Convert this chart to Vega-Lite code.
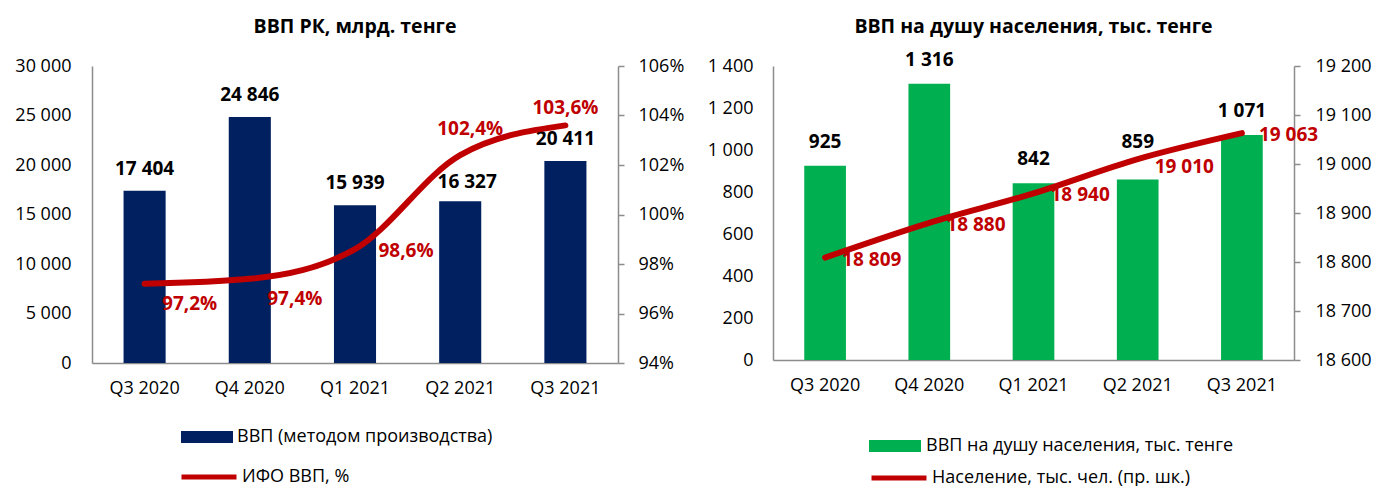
{
  "$schema": "https://vega.github.io/schema/vega-lite/v6.json",
  "autosize": {"type": "pad"},
  "padding": {"left": 14, "top": 16, "right": 0, "bottom": 0},
  "spacing": 23,
  "background": "#ffffff",
  "config": {
    "font": "Open Sans",
    "view": {"stroke": null},
    "locale": {"number": {"decimal": ",", "thousands": " ", "grouping": [3], "currency": ["", ""]}},
    "axis": {"labelFont": "Open Sans", "labelFontSize": 18, "labelColor": "#000000", "domainColor": "#8c8c8c", "domainWidth": 1.5, "tickColor": "#8c8c8c", "tickWidth": 1.5, "grid": false, "title": null},
    "legend": {"padding": 0, "labelFont": "Open Sans", "labelFontSize": 18, "labelColor": "#000000", "title": null, "labelLimit": 0},
    "title": {"font": "Open Sans", "fontSize": 19.5, "fontWeight": "bold", "color": "#000000", "anchor": "middle"}
  },
  "resolve": {"scale": {"fill": "independent", "stroke": "independent"}, "legend": {"fill": "independent", "stroke": "independent"}},
  "hconcat": [
    {
      "width": 526,
      "height": 297,
      "title": {"text": "ВВП РК, млрд. тенге", "offset": 20},
      "data": {"values": [
        {"q": "Q3 2020", "gdp": 17404, "ifo": 0.972},
        {"q": "Q4 2020", "gdp": 24846, "ifo": 0.974},
        {"q": "Q1 2021", "gdp": 15939, "ifo": 0.986},
        {"q": "Q2 2021", "gdp": 16327, "ifo": 1.024},
        {"q": "Q3 2021", "gdp": 20411, "ifo": 1.036}
      ]},
      "encoding": {
        "x": {"field": "q", "type": "nominal", "sort": null, "scale": {"paddingInner": 0.6, "paddingOuter": 0.3},
              "axis": {"labelAngle": 0, "ticks": false, "tickSize": 0, "labelPadding": 16, "title": null}}
      },
      "layer": [
        {
          "encoding": {
            "y": {"field": "gdp", "type": "quantitative", "scale": {"domain": [0, 30000], "nice": false},
                  "axis": {"orient": "left", "values": [0, 5000, 10000, 15000, 20000, 25000, 30000], "format": ",.0f", "ticks": false, "tickSize": 0, "labelPadding": 21, "minExtent": 77, "maxExtent": 77}}
          },
          "layer": [
            {"mark": {"type": "bar"},
             "encoding": {"fill": {"datum": "ВВП (методом производства)", "scale": {"range": ["#002060"]},
                "legend": {"orient": "none", "legendX": 89, "legendY": 345, "symbolType": "M-1,-0.23H1V0.23H-1Z", "symbolSize": 2704, "symbolStrokeWidth": 0, "labelOffset": 4}}}},
            {"transform": [{"filter": "datum.q != 'Q2 2021'"}],
             "mark": {"type": "text", "fontWeight": "bold", "fontSize": 19, "color": "#000000", "baseline": "middle", "dy": -22},
             "encoding": {"text": {"field": "gdp", "type": "quantitative", "format": ",.0f"}}},
            {"transform": [{"filter": "datum.q == 'Q2 2021'"}],
             "mark": {"type": "text", "fontWeight": "bold", "fontSize": 19, "color": "#000000", "baseline": "middle", "dy": -19, "dx": 7},
             "encoding": {"text": {"field": "gdp", "type": "quantitative", "format": ",.0f"}}}
          ]
        },
        {
          "encoding": {
            "y": {"field": "ifo", "type": "quantitative", "scale": {"domain": [0.94, 1.06], "nice": false, "zero": false},
                  "axis": {"orient": "right", "values": [0.94, 0.96, 0.98, 1.0, 1.02, 1.04, 1.06], "format": ".0%", "tickSize": 6, "labelPadding": 14}}
          },
          "layer": [
            {"mark": {"type": "line", "interpolate": "monotone", "strokeWidth": 6, "strokeCap": "round"},
             "encoding": {"stroke": {"datum": "ИФО ВВП, %", "scale": {"range": ["#C00000"]},
                "legend": {"orient": "none", "legendX": 87, "legendY": 381, "symbolType": "stroke", "symbolSize": 3025, "symbolStrokeWidth": 5, "symbolStrokeColor": "#C00000", "labelOffset": 3}}}},
            {"transform": [{"filter": "datum.q == 'Q3 2020' || datum.q == 'Q4 2020'"}],
             "mark": {"type": "text", "fontWeight": "bold", "fontSize": 19, "color": "#C00000", "baseline": "middle", "dx": 45, "dy": 20},
             "encoding": {"text": {"field": "ifo", "type": "quantitative", "format": ".1%"}}},
            {"transform": [{"filter": "datum.q == 'Q1 2021'"}],
             "mark": {"type": "text", "fontWeight": "bold", "fontSize": 19, "color": "#C00000", "baseline": "middle", "dx": 51, "dy": 2},
             "encoding": {"text": {"field": "ifo", "type": "quantitative", "format": ".1%"}}},
            {"transform": [{"filter": "datum.q == 'Q2 2021'"}],
             "mark": {"type": "text", "fontWeight": "bold", "fontSize": 19, "color": "#C00000", "baseline": "middle", "dx": 10, "dy": -26},
             "encoding": {"text": {"field": "ifo", "type": "quantitative", "format": ".1%"}}},
            {"transform": [{"filter": "datum.q == 'Q3 2021'"}],
             "mark": {"type": "text", "fontWeight": "bold", "fontSize": 19, "color": "#C00000", "baseline": "middle", "dx": 0, "dy": -17},
             "encoding": {"text": {"field": "ifo", "type": "quantitative", "format": ".1%"}}}
          ]
        }
      ],
      "resolve": {"scale": {"y": "independent"}}
    },
    {
      "width": 521,
      "height": 294,
      "title": {"text": "ВВП на душу населения, тыс. тенге", "offset": 13},
      "data": {"values": [
        {"q": "Q3 2020", "pc": 925, "pop": 18809},
        {"q": "Q4 2020", "pc": 1316, "pop": 18880},
        {"q": "Q1 2021", "pc": 842, "pop": 18940},
        {"q": "Q2 2021", "pc": 859, "pop": 19010},
        {"q": "Q3 2021", "pc": 1071, "pop": 19063}
      ]},
      "encoding": {
        "x": {"field": "q", "type": "nominal", "sort": null, "scale": {"paddingInner": 0.6, "paddingOuter": 0.3},
              "axis": {"labelAngle": 0, "ticks": false, "tickSize": 0, "labelPadding": 16, "title": null}}
      },
      "layer": [
        {
          "encoding": {
            "y": {"field": "pc", "type": "quantitative", "scale": {"domain": [0, 1400], "nice": false},
                  "axis": {"orient": "left", "values": [0, 200, 400, 600, 800, 1000, 1200, 1400], "format": ",.0f", "ticks": false, "tickSize": 0, "labelPadding": 20, "minExtent": 66, "maxExtent": 66}}
          },
          "layer": [
            {"mark": {"type": "bar"},
             "encoding": {"fill": {"datum": "ВВП на душу населения, тыс. тенге", "scale": {"range": ["#00B050"]},
                "legend": {"orient": "none", "legendX": 96, "legendY": 354, "symbolType": "M-1,-0.23H1V0.23H-1Z", "symbolSize": 2704, "symbolStrokeWidth": 0, "labelOffset": 5}}}},
            {"transform": [{"filter": "datum.q != 'Q2 2021'"}],
             "mark": {"type": "text", "fontWeight": "bold", "fontSize": 19, "color": "#000000", "baseline": "middle", "dy": -24},
             "encoding": {"text": {"field": "pc", "type": "quantitative", "format": ",.0f"}}},
            {"transform": [{"filter": "datum.q == 'Q2 2021'"}],
             "mark": {"type": "text", "fontWeight": "bold", "fontSize": 19, "color": "#000000", "baseline": "middle", "dy": -38},
             "encoding": {"text": {"field": "pc", "type": "quantitative", "format": ",.0f"}}}
          ]
        },
        {
          "encoding": {
            "y": {"field": "pop", "type": "quantitative", "scale": {"domain": [18600, 19200], "nice": false, "zero": false},
                  "axis": {"orient": "right", "values": [18600, 18700, 18800, 18900, 19000, 19100, 19200], "format": ",.0f", "tickSize": 6, "labelPadding": 15}}
          },
          "layer": [
            {"mark": {"type": "line", "interpolate": "monotone", "strokeWidth": 6, "strokeCap": "round"},
             "encoding": {"stroke": {"datum": "Население, тыс. чел. (пр. шк.)", "scale": {"range": ["#C00000"]},
                "legend": {"orient": "none", "legendX": 96, "legendY": 382, "symbolType": "stroke", "symbolSize": 3025, "symbolStrokeWidth": 5, "symbolStrokeColor": "#C00000", "labelOffset": 3}}}},
            {"transform": [{"filter": "datum.q != 'Q2 2021'"}],
             "mark": {"type": "text", "fontWeight": "bold", "fontSize": 19, "color": "#C00000", "baseline": "middle", "align": "left", "dx": 17, "dy": 2},
             "encoding": {"text": {"field": "pop", "type": "quantitative", "format": ",.0f"}}},
            {"transform": [{"filter": "datum.q == 'Q2 2021'"}],
             "mark": {"type": "text", "fontWeight": "bold", "fontSize": 19, "color": "#C00000", "baseline": "middle", "align": "left", "dx": 17, "dy": 8},
             "encoding": {"text": {"field": "pop", "type": "quantitative", "format": ",.0f"}}}
          ]
        }
      ],
      "resolve": {"scale": {"y": "independent"}}
    }
  ]
}
